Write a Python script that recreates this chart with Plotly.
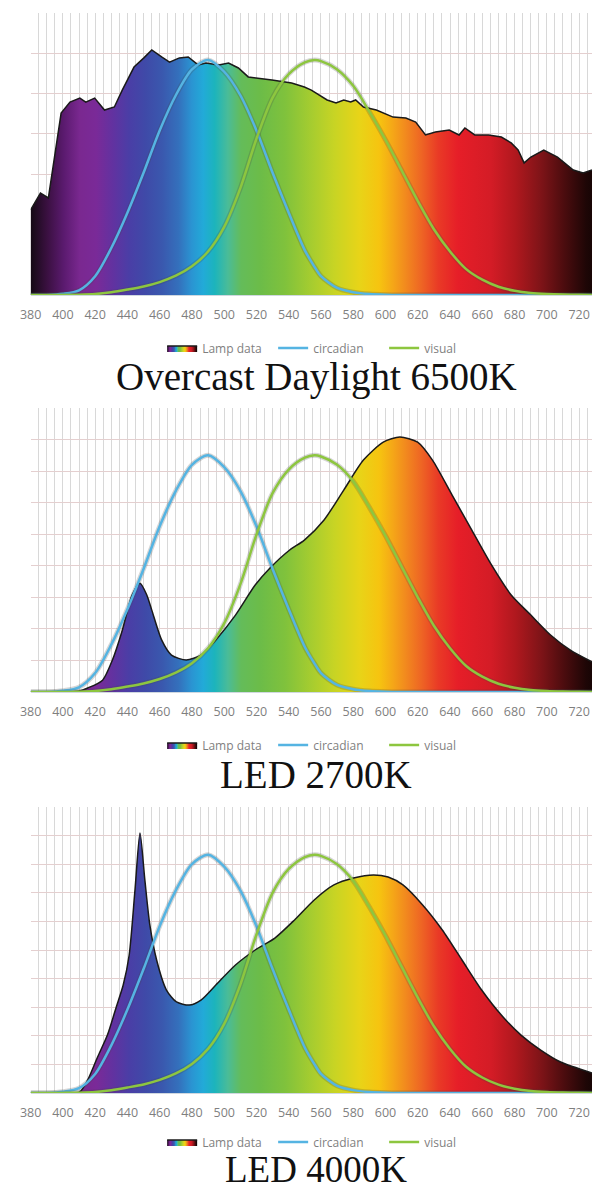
import plotly.graph_objects as go

# Response curves (relative units, peak = 1)
WL_RESP = [380, 390, 400, 410, 420, 430, 440, 450, 460, 470, 480, 490, 500, 510, 520,
           530, 540, 550, 556, 560, 570, 580, 590, 600, 610, 620, 630, 640, 650, 660,
           670, 680, 690, 700, 710, 720, 728]
CIRCADIAN = [0.0, 0.0, 0.005, 0.02, 0.08, 0.20, 0.35, 0.52, 0.70, 0.85, 0.96, 1.00, 0.95,
             0.85, 0.70, 0.52, 0.35, 0.19, 0.12, 0.08, 0.03, 0.012, 0.004, 0.001, 0.0,
             0.0, 0.0, 0.0, 0.0, 0.0, 0.0, 0.0, 0.0, 0.0, 0.0, 0.0, 0.0]
VISUAL = [0.0, 0.0001, 0.0004, 0.0012, 0.004, 0.0116, 0.023, 0.036, 0.055, 0.082, 0.122,
          0.185, 0.29, 0.455, 0.665, 0.84, 0.94, 0.99, 1.0, 0.995, 0.96, 0.89, 0.78, 0.66,
          0.53, 0.40, 0.28, 0.185, 0.11, 0.065, 0.035, 0.018, 0.0085, 0.0042, 0.002,
          0.001, 0.0005]

# Lamp spectra (relative units)
DAYLIGHT_WL = [380.0, 386.1, 391.0, 398.9, 404.4, 410.5, 414.2, 419.7, 425.8, 431.9,
               436.8, 444.1, 450.2, 455.1, 461.2, 466.1, 472.2, 477.7, 483.8, 488.7,
               496.6, 502.7, 508.8, 514.9, 529.6, 541.8, 549.7, 554.0, 563.8, 569.3,
               574.1, 578.4, 581.5, 586.3, 594.3, 604.7, 612.6, 618.7, 624.8, 630.9,
               639.5, 645.6, 649.2, 655.3, 663.9, 671.8, 677.9, 682.2, 685.9, 690.1,
               698.1, 706.6, 716.4, 722.5, 728.0]
DAYLIGHT = [0.362, 0.434, 0.413, 0.774, 0.821, 0.838, 0.821, 0.838, 0.787, 0.800,
            0.872, 0.970, 1.009, 1.043, 1.013, 0.991, 1.009, 1.013, 0.979, 0.987,
            0.979, 0.987, 0.966, 0.928, 0.915, 0.902, 0.885, 0.872, 0.830, 0.817,
            0.830, 0.821, 0.830, 0.800, 0.787, 0.757, 0.753, 0.736, 0.681, 0.694,
            0.702, 0.681, 0.711, 0.681, 0.681, 0.672, 0.647, 0.617, 0.562, 0.587,
            0.617, 0.587, 0.532, 0.519, 0.532]

LED2700_WL = [380, 400, 410, 415.4, 424.6, 430.7, 436.8, 442.9, 447.8, 452.0, 455.1,
              461.2, 467.3, 476.5, 485.6, 494.8, 507.0, 519.2, 528.4, 540.6, 549.7,
              561.9, 574.1, 586.3, 598.6, 608.9, 619.9, 629.1, 641.3, 653.5, 665.7,
              677.9, 690.1, 702.3, 714.6, 728.0]
LED2700 = [0.0, 0.0, 0.004, 0.017, 0.05, 0.135, 0.26, 0.41, 0.46, 0.41, 0.346,
           0.22, 0.156, 0.135, 0.156, 0.22, 0.325, 0.452, 0.524, 0.60, 0.642,
           0.727, 0.853, 0.98, 1.056, 1.077, 1.056, 0.98, 0.832, 0.684, 0.537,
           0.41, 0.325, 0.241, 0.177, 0.127]

LED4000_WL = [380, 400, 410.5, 415.4, 421.5, 427.6, 433.1, 437.4, 441.1, 444.7, 447.8,
              450.8, 453.9, 458.1, 464.2, 470.4, 478.3, 485.6, 494.8, 507.0, 519.2,
              531.4, 543.6, 555.8, 568.0, 580.2, 592.5, 601.6, 610.8, 623.0, 635.2,
              647.4, 659.6, 671.8, 684.0, 696.2, 708.5, 728.0]
LED4000 = [0.0, 0.0, 0.005, 0.055, 0.151, 0.243, 0.361, 0.453, 0.579, 0.852, 1.091,
           0.894, 0.705, 0.558, 0.432, 0.382, 0.369, 0.39, 0.453, 0.537, 0.60,
           0.65, 0.726, 0.81, 0.873, 0.902, 0.915, 0.906, 0.873, 0.789, 0.684,
           0.558, 0.432, 0.327, 0.243, 0.18, 0.13, 0.084]

PANELS = [
    ("Overcast Daylight 6500K", DAYLIGHT_WL, DAYLIGHT, "linear", 7),
    ("LED 2700K", LED2700_WL, LED2700, "spline", 9),
    ("LED 4000K", LED4000_WL, LED4000, "spline", 10),
]
TICK_WL = list(range(380, 721, 20))

# visible-spectrum colour ramp (wavelength, colour)
SPECTRUM = [
    (380, "#140a14"), (390, "#3a1040"), (400, "#5a1a6e"), (410, "#7a2890"),
    (420, "#7a2a98"), (430, "#6232a0"), (440, "#4a3ea6"), (450, "#3f4aa8"),
    (460, "#3a58ae"), (470, "#3470bc"), (478, "#2a94d2"), (485, "#22aad8"),
    (492, "#1cb4bc"), (500, "#4abc98"), (508, "#64bc5a"), (520, "#6cbc48"),
    (535, "#80c23c"), (550, "#a4cc30"), (565, "#c8d424"), (580, "#e8d418"),
    (592, "#f6c410"), (600, "#f5a817"), (608, "#f28a1e"), (618, "#ee6424"),
    (628, "#e93a26"), (640, "#e61e28"), (660, "#d41c26"), (675, "#b0181e"),
    (690, "#801418"), (705, "#4a0c0e"), (718, "#1e0606"), (728, "#0c0404"),
]
X0, X1 = 380, 728
colorscale = [[(w - X0) / (X1 - X0), c] for w, c in SPECTRUM]

W, H = 592, 1191
# pixel rows of each panel: top, baseline, legend centre, title centre, title size
ROWS = [(13, 295, 348, 377, 39), (408, 692, 745, 774, 39), (807, 1093, 1142, 1169, 37)]
YMAX = 1.2
BLUE = "#55b4e2"
GREEN = "#8dc63f"
GREY_TXT = "#7f7f7f"


def py(px):
    return 1 - px / H


fig = go.Figure()
layout = dict(
    width=W, height=H, margin=dict(l=0, r=0, t=0, b=0),
    paper_bgcolor="white", plot_bgcolor="white", showlegend=True,
    font=dict(family="Open Sans", size=12, color=GREY_TXT),
)
annotations = []

for i, (title, wl, vals, shape, ngrid) in enumerate(PANELS):
    n = i + 1
    xa = "x" if n == 1 else f"x{n}"
    ya = "y" if n == 1 else f"y{n}"
    leg = "legend" if n == 1 else f"legend{n}"
    top, base, leg_y, title_y, title_size = ROWS[i]

    fig.add_trace(go.Scatter(
        x=wl, y=vals, xaxis=xa, yaxis=ya, mode="lines", name="Lamp data",
        line=dict(color="#1a1a1a", width=1.5, shape=shape, smoothing=0.7),
        fill="tozeroy",
        fillgradient=dict(type="horizontal", colorscale=colorscale, start=X0, stop=X1),
        legend=leg, hoverinfo="skip",
    ))
    for name, curve, col in (("circadian", CIRCADIAN, BLUE), ("visual", VISUAL, GREEN)):
        fig.add_trace(go.Scatter(
            x=WL_RESP, y=curve, xaxis=xa, yaxis=ya, mode="lines",
            line=dict(color="rgba(70,70,70,0.22)", width=5, shape="spline", smoothing=0.8),
            showlegend=False, hoverinfo="skip", legend=leg,
        ))
        fig.add_trace(go.Scatter(
            x=WL_RESP, y=curve, xaxis=xa, yaxis=ya, mode="lines", name=name,
            line=dict(color=col, width=2.5, shape="spline", smoothing=0.8),
            legend=leg, hoverinfo="skip",
        ))

    xkey = "xaxis" if n == 1 else f"xaxis{n}"
    ykey = "yaxis" if n == 1 else f"yaxis{n}"
    layout[xkey] = dict(
        domain=[20 / W, 1], range=[X0, X1], anchor=ya,
        tickmode="array", tickvals=TICK_WL, ticktext=[str(t) for t in TICK_WL],
        showgrid=True, gridcolor="#d8d8d8", gridwidth=1,
        minor=dict(tickmode="linear", tick0=380, dtick=5, showgrid=True,
                   gridcolor="#d8d8d8", gridwidth=1),
        zeroline=False, showline=True, linecolor="#d0d8e0", linewidth=1,
        ticks="", ticklabelstandoff=8,
        tickfont=dict(family="Open Sans", size=12.5, color=GREY_TXT),
    )
    layout[ykey] = dict(
        domain=[py(base), py(top)], range=[0, YMAX], anchor=xa,
        tickmode="array", tickvals=[YMAX * k / ngrid for k in range(ngrid + 1)],
        showticklabels=False, showgrid=True, gridcolor="#e4cfcf", gridwidth=1,
        zeroline=False, showline=False, ticks="",
    )
    # small tick marks along the top edge
    tkey = f"xaxis{n + 3}"
    layout[tkey] = dict(
        overlaying=xa, anchor=ya, side="top", range=[X0, X1],
        tickmode="linear", tick0=380, dtick=5, ticks="outside", ticklen=3,
        tickcolor="#c9b8b8", showticklabels=False, showgrid=False,
        zeroline=False, showline=True, linecolor="#e0d0d0",
    )
    layout[leg] = dict(
        orientation="h", x=154 / W, xanchor="left", y=py(leg_y), yanchor="middle",
        font=dict(family="Open Sans", size=12, color=GREY_TXT),
        entrywidth=66, entrywidthmode="pixels",
        bgcolor="rgba(0,0,0,0)", itemclick=False, itemdoubleclick=False,
        traceorder="normal",
    )
    annotations.append(dict(
        text=title, xref="paper", yref="paper", x=311 / W, y=py(title_y),
        xanchor="center", yanchor="middle", showarrow=False,
        font=dict(family="Liberation Serif", size=title_size, color="#111111"),
    ))

layout["annotations"] = annotations
fig.update_layout(**layout)

fig.write_html("out.html")
